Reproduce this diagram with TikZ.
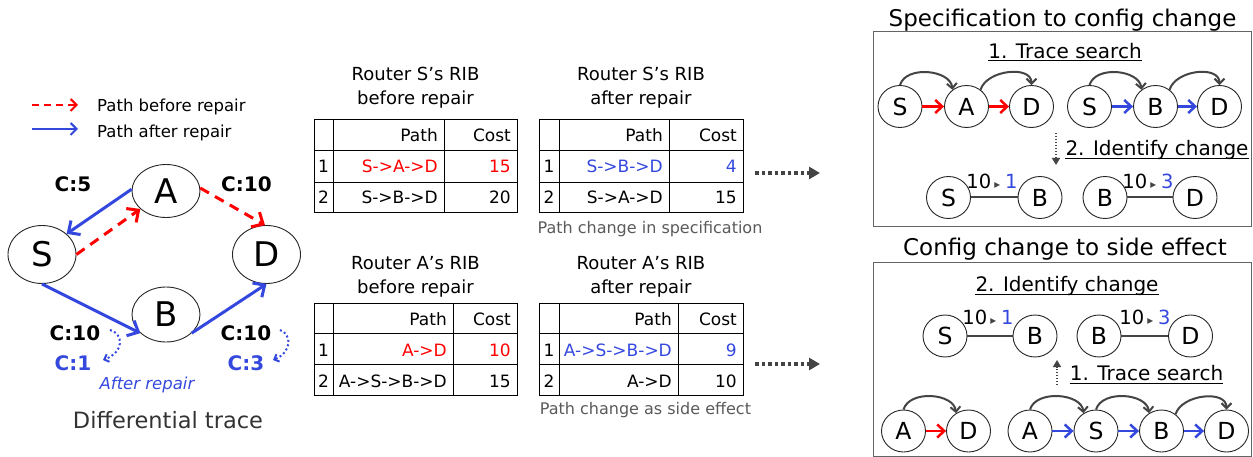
\documentclass[tikz,border=0pt]{standalone}
\usepackage{fontspec}
\setmainfont{DejaVu Sans}
\usetikzlibrary{arrows.meta,shapes.geometric}
\definecolor{cblue}{RGB}{52,72,222}
\definecolor{cred}{RGB}{255,0,0}
\definecolor{cdark}{RGB}{68,68,68}
\definecolor{ccap}{RGB}{90,90,90}
\definecolor{cframe}{RGB}{100,100,100}
\newcommand{\fsz}[1]{\fontsize{#1}{#1}\selectfont}
\newcommand{\ribgrid}[8]{%
  \draw[gridline] (#1,#5) rectangle (#4,#8);
  \draw[gridline] (#2,#5) -- (#2,#8);
  \draw[gridline] (#3,#5) -- (#3,#8);
  \draw[gridline] (#1,#6) -- (#4,#6);
  \draw[gridline] (#1,#7) -- (#4,#7);}
\newcommand{\chg}[1]{10\hspace{3pt}\textcolor{cdark}{\scalebox{0.6}{▸}}\hspace{5pt}\textcolor{cblue}{#1}}
\begin{document}
\begin{tikzpicture}[x=1pt,y=-1pt,
  bignode/.style={ellipse,draw=black!85,line width=0.9pt,fill=white,minimum width=68pt,inner sep=0pt,font=\fsz{34}},
  smallnode/.style={ellipse,draw=black!85,line width=0.9pt,fill=white,minimum width=44pt,minimum height=42pt,inner sep=0pt,font=\fsz{23.5}},
  tc/.style={inner sep=0pt,anchor=base},
  tl/.style={inner sep=0pt,anchor=base west},
  tr/.style={inner sep=0pt,anchor=base east,font=\fsz{17}},
  tn/.style={inner sep=0pt,anchor=base,font=\fsz{17}},
  ttl/.style={inner sep=0pt,anchor=base,font=\fsz{18}},
  cl/.style={inner sep=0pt,anchor=base,font=\bfseries\fsz{20}},
  gridline/.style={draw=black,line width=0.9pt},
  bluepath/.style={draw=cblue,line width=3pt,-{Straight Barb[length=9pt,width=17pt]}},
  redpath/.style={draw=cred,line width=3pt,dash pattern=on 10pt off 7pt,-{Straight Barb[length=9pt,width=17pt]}},
  legred/.style={draw=cred,line width=2pt,dash pattern=on 7pt off 5pt,-{Straight Barb[length=6pt,width=12pt]}},
  legblue/.style={draw=cblue,line width=2pt,-{Straight Barb[length=6pt,width=12pt]}},
  bluedot/.style={draw=cblue,line width=2pt,dash pattern=on 2pt off 2.5pt,-{Straight Barb[length=4pt,width=8pt]}},
  bigdot/.style={draw=cdark,line width=4pt,dash pattern=on 3.5pt off 3pt,-{Triangle[length=11pt,width=12pt]}},
  thindot/.style={draw=cdark,line width=1.5pt,dash pattern=on 1.5pt off 1.5pt,-{Triangle[length=7pt,width=8pt]}},
  redshort/.style={draw=cred,line width=2.5pt,-{Straight Barb[length=7pt,width=13pt]}},
  blueshort/.style={draw=cblue,line width=2.5pt,-{Straight Barb[length=7pt,width=13pt]}},
  arcarrow/.style={draw=cdark,line width=2pt,-{Straight Barb[length=5pt,width=10pt]}},
  conn/.style={draw=cdark,line width=2pt},
  frame/.style={draw=cframe,line width=1pt},
  uline/.style={draw=black,line width=1.2pt},
  hd/.style={inner sep=0pt,anchor=base,font=\fsz{20}},
]
\useasboundingbox (0,0) rectangle (1253,457);

% ---------------- legend ----------------
\coordinate (lga) at (32,105); \coordinate (lgb) at (78,105);
\draw[legred] (lga) -- (lgb);
\coordinate (lgc) at (32,129); \coordinate (lgd) at (78,129);
\draw[legblue] (lgc) -- (lgd);
\node[tl,font=\fsz{16.5}] (lgt1) at (97,111.5) {Path before repair};
\node[tl,font=\fsz{16.5}] (lgt2) at (97,138) {Path after repair};

% ---------------- differential trace graph ----------------
\node[bignode,minimum height=58pt] (S) at (42,254.5) {S};
\node[bignode,minimum height=53pt] (A) at (166,191) {A};
\node[bignode,minimum height=58pt] (D) at (266.5,254.5) {D};
\node[bignode,minimum height=55pt] (B) at (166,314.5) {B};
\draw[bluepath] (A.177) -- (S.40);
\draw[redpath] (S.0) -- (A.215);
\draw[redpath] (A.5) -- (D.93);
\draw[bluepath] (S.270) -- (B.216);
\draw[bluepath] (B.324) -- (D.270);

\node[cl] (c5) at (73,192) {C:5};
\node[cl] (c10a) at (246.5,192) {C:10};
\node[cl] (c10b) at (75,340) {C:10};
\node[cl,text=cblue] (c1) at (73,370) {C:1};
\node[cl] (c10c) at (246,340) {C:10};
\node[cl,text=cblue] (c3) at (246,370) {C:3};
\coordinate (p1) at (110,330); \coordinate (p2) at (103,360);
\draw[bluedot] (p1) .. controls (124,334) and (124,352) .. (p2);
\coordinate (p3) at (280,330); \coordinate (p4) at (273,360);
\draw[bluedot] (p3) .. controls (292,334) and (292,352) .. (p4);
\node[tc,font=\itshape\fsz{16.5},text=cblue] (aft) at (147,389) {After repair};
\node[tc,font=\fsz{22.5},text=black!80] (dt) at (168,428) {Differential trace};

% ---------------- tables ----------------
\ribgrid{314}{333}{444}{517}{119}{150}{182}{212}
\ribgrid{539}{559}{669}{743}{119}{150}{182}{212}
\ribgrid{314}{333}{453}{517}{303}{333}{364}{395}
\ribgrid{539}{559}{678}{743}{303}{333}{364}{395}

\node[ttl] (t1a) at (415.5,80.7) {Router S’s RIB};
\node[ttl] (t1b) at (415.5,104.3) {before repair};
\node[ttl] (t2a) at (641,80.7) {Router S’s RIB};
\node[ttl] (t2b) at (641,104.3) {after repair};
\node[ttl] (t3a) at (415.5,269.3) {Router A’s RIB};
\node[ttl] (t3b) at (415.5,293.3) {before repair};
\node[ttl] (t4a) at (641,269.3) {Router A’s RIB};
\node[ttl] (t4b) at (641,293.3) {after repair};

% table 1
\node[tr] (q1h1) at (438,141.5) {Path};
\node[tr] (q1h2) at (511,141.5) {Cost};
\node[tn] (q1n1) at (323.5,173) {1};
\node[tr,text=cred] (q1p1) at (438,173) {S->A->D};
\node[tr,text=cred] (q1c1) at (511,173) {15};
\node[tn] (q1n2) at (323.5,204) {2};
\node[tr] (q1p2) at (438,204) {S->B->D};
\node[tr] (q1c2) at (511,204) {20};
% table 2
\node[tr] (q2h1) at (663,141.5) {Path};
\node[tr] (q2h2) at (737,141.5) {Cost};
\node[tn] (q2n1) at (549,173) {1};
\node[tr,text=cblue] (q2p1) at (663,173) {S->B->D};
\node[tr,text=cblue] (q2c1) at (737,173) {4};
\node[tn] (q2n2) at (549,204) {2};
\node[tr] (q2p2) at (663,204) {S->A->D};
\node[tr] (q2c2) at (737,204) {15};
% table 3
\node[tr] (q3h1) at (447,325.5) {Path};
\node[tr] (q3h2) at (511,325.5) {Cost};
\node[tn] (q3n1) at (323.5,356) {1};
\node[tr,text=cred] (q3p1) at (447,356) {A->D};
\node[tr,text=cred] (q3c1) at (511,356) {10};
\node[tn] (q3n2) at (323.5,387) {2};
\node[tr] (q3p2) at (447,387) {A->S->B->D};
\node[tr] (q3c2) at (511,387) {15};
% table 4
\node[tr] (q4h1) at (672,325.5) {Path};
\node[tr] (q4h2) at (737,325.5) {Cost};
\node[tn] (q4n1) at (549,356) {1};
\node[tr,text=cblue] (q4p1) at (672,356) {A->S->B->D};
\node[tr,text=cblue] (q4c1) at (737,356) {9};
\node[tn] (q4n2) at (549,387) {2};
\node[tr] (q4p2) at (672,387) {A->D};
\node[tr] (q4c2) at (737,387) {10};

\node[tc,font=\fsz{16},text=ccap] (cap1) at (650,233.3) {Path change in specification};
\node[tc,font=\fsz{16},text=ccap] (cap2) at (645.5,414) {Path change as side effect};

\coordinate (da1) at (755,173); \coordinate (da2) at (820,173);
\draw[bigdot] (da1) -- (da2);
\coordinate (da3) at (755,364); \coordinate (da4) at (820,364);
\draw[bigdot] (da3) -- (da4);

% ---------------- box 1 ----------------
\draw[frame] (873,32) rectangle (1251.5,227);
\node[tc,font=\fsz{23}] (bt1) at (1062.5,26.7) {Specification to config change};
\node[hd] (ts1) at (1065,58.3) {1. Trace search};
\draw[uline] ([yshift=-2.5pt]ts1.base west) -- ([yshift=-2.5pt]ts1.base east);
\node[smallnode] (s1a) at (900,106.5) {S};
\node[smallnode] (a1a) at (966.5,106.5) {A};
\node[smallnode] (d1a) at (1031.5,106.5) {D};
\node[smallnode] (s1b) at (1089.5,106.5) {S};
\node[smallnode] (b1b) at (1155.5,106.5) {B};
\node[smallnode] (d1b) at (1219.5,106.5) {D};
\draw[redshort] (s1a) -- (a1a);
\draw[redshort] (a1a) -- (d1a);
\draw[blueshort] (s1b) -- (b1b);
\draw[blueshort] (b1b) -- (d1b);
\draw[arcarrow] (s1a.north) .. controls +(6,-20) and +(-2,-20) .. (a1a.130);
\draw[arcarrow] (a1a.50) .. controls +(6,-20) and +(0,-20) .. (d1a.north);
\draw[arcarrow] (s1b.north) .. controls +(6,-20) and +(-2,-20) .. (b1b.130);
\draw[arcarrow] (b1b.50) .. controls +(6,-20) and +(0,-20) .. (d1b.north);
\node[hd] (ic1) at (1157,155.7) {2. Identify change};
\draw[uline] ([yshift=-2.5pt]ic1.base west) -- ([yshift=-2.5pt]ic1.base east);
\coordinate (dd1) at (1056,133); \coordinate (dd2) at (1056,165);
\draw[thindot] (dd1) -- (dd2);
\node[smallnode] (s1c) at (948.5,197.5) {S};
\node[smallnode] (b1c) at (1040,197.5) {B};
\node[smallnode] (b1d) at (1105,197.5) {B};
\node[smallnode] (d1d) at (1195,197.5) {D};
\draw[conn] (s1c) -- (b1c);
\draw[conn] (b1d) -- (d1d);
\node[tc,font=\fsz{19.5}] (k1) at (992,188.3) {\chg{1}};
\node[tc,font=\fsz{19.5}] (k2) at (1148,188.3) {\chg{3}};

% ---------------- box 2 ----------------
\draw[frame] (873,262) rectangle (1251.5,456);
\node[tc,font=\fsz{23}] (bt2) at (1065,255.7) {Config change to side effect};
\node[hd] (ic2) at (1067,291.7) {2. Identify change};
\draw[uline] ([yshift=-2.5pt]ic2.base west) -- ([yshift=-2.5pt]ic2.base east);
\node[smallnode] (s2a) at (945,336) {S};
\node[smallnode] (b2a) at (1035,336) {B};
\node[smallnode] (b2b) at (1099,336) {B};
\node[smallnode] (d2b) at (1190.5,336) {D};
\draw[conn] (s2a) -- (b2a);
\draw[conn] (b2b) -- (d2b);
\node[tc,font=\fsz{19.5}] (k3) at (988,324.3) {\chg{1}};
\node[tc,font=\fsz{19.5}] (k4) at (1145,324.3) {\chg{3}};
\coordinate (du1) at (1057,385); \coordinate (du2) at (1057,360);
\draw[thindot] (du1) -- (du2);
\node[hd] (ts2) at (1146.5,380.7) {1. Trace search};
\draw[uline] ([yshift=-2.5pt]ts2.base west) -- ([yshift=-2.5pt]ts2.base east);
\node[smallnode] (a2c) at (903.5,431) {A};
\node[smallnode] (d2c) at (968.5,431) {D};
\node[smallnode] (a2d) at (1030,431) {A};
\node[smallnode] (s2d) at (1096,431) {S};
\node[smallnode] (b2d) at (1161.5,431) {B};
\node[smallnode] (d2d) at (1226.5,431) {D};
\draw[redshort] (a2c) -- (d2c);
\draw[blueshort] (a2d) -- (s2d);
\draw[blueshort] (s2d) -- (b2d);
\draw[blueshort] (b2d) -- (d2d);
\draw[arcarrow] (a2c.north) .. controls +(6,-20) and +(-2,-20) .. (d2c.125);
\draw[arcarrow] (a2d.north) .. controls +(6,-20) and +(-2,-20) .. (s2d.125);
\draw[arcarrow] (s2d.north) .. controls +(6,-20) and +(-2,-20) .. (b2d.125);
\draw[arcarrow] (b2d.50) .. controls +(6,-20) and +(0,-20) .. (d2d.north);
\end{tikzpicture}
\end{document}
